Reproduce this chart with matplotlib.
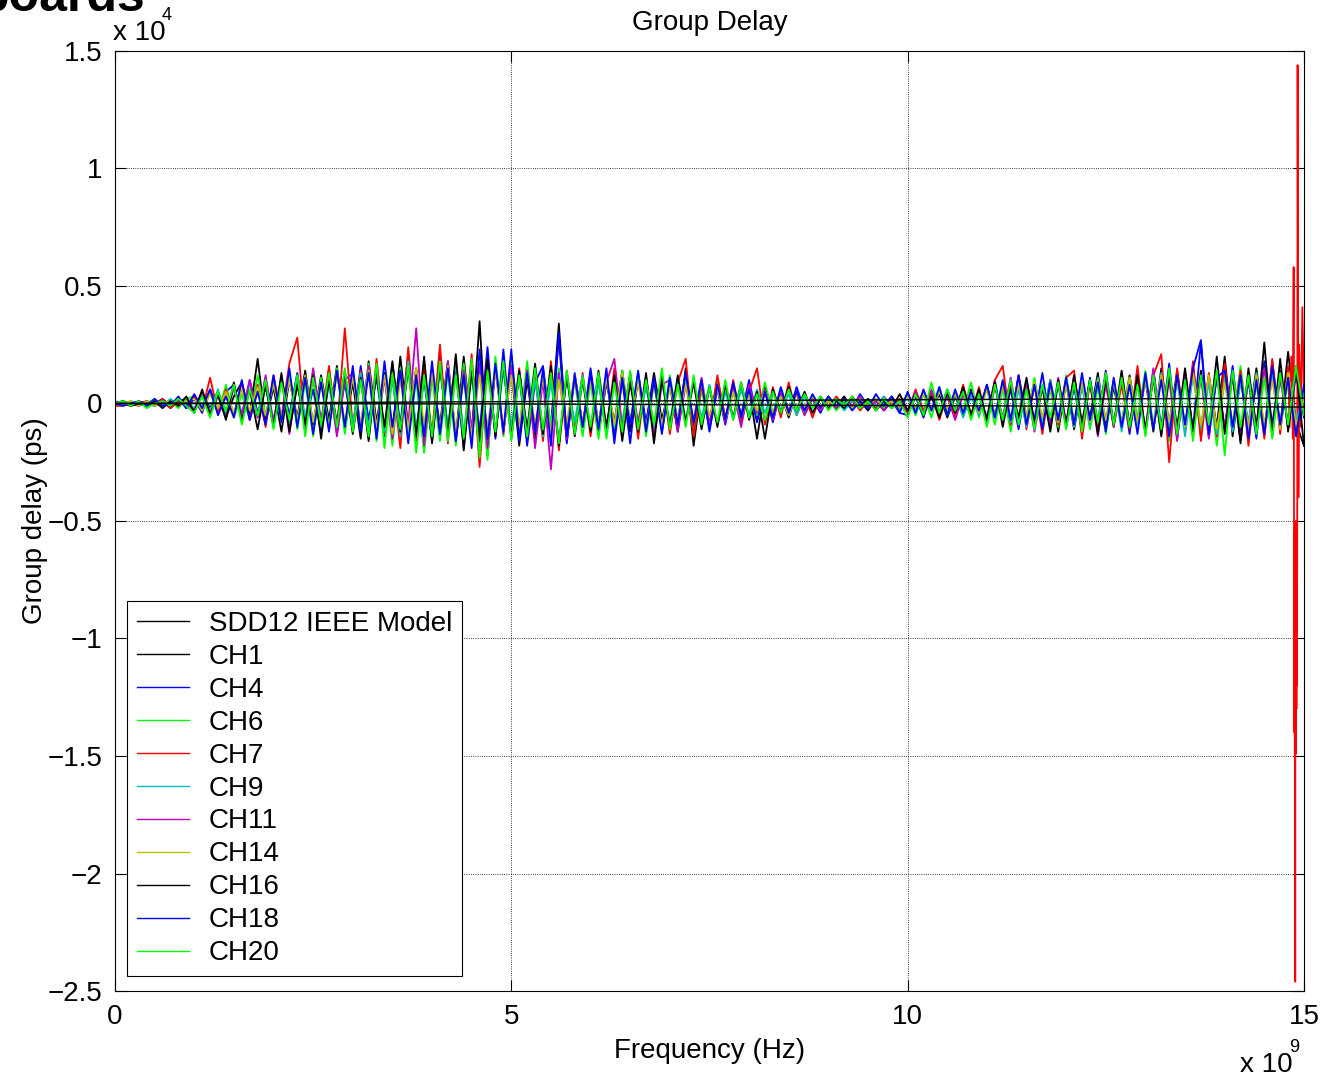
import numpy as np
import matplotlib.pyplot as plt

plt.rcParams["font.family"] = ["Liberation Sans", "DejaVu Sans"]

# frequency grid in GHz (0.1 GHz steps, 0 .. 15)
freq_ghz = np.round(np.arange(151) * 0.1, 2)

# group delay, in units of 100 ps
model_freq = [0, 5, 10, 15]
sdd12_model = [0, 0.8, 1.6, 2.3]
sdd12_model_b = [0, -0.2, -0.9, -1.5]

ch1 = [0, 0, -1, 0, 1, -1, 1, -2, 1, 2,
       -3, 4, -2, 5, -6, 3, 9, -5, 19, -8,
       7, -12, 10, -6, 14, -9, 12, -7, 16, -11,
       9, -15, 18, -8, 13, -12, 20, -10, 15, -17,
       12, -9, 18, -14, 20, -13, 35, -22, 16, -12,
       14, -18, 10, -15, 12, -10, 34, -16, 12, -9,
       11, -13, 9, -8, 14, -12, 10, -9, 13, -7,
       8, -12, 15, -18, 7, -9, 10, -6, 8, -5,
       6, -15, 7, -5, 4, -6, 5, -3, 3, -2,
       2, -1, 3, -2, 1, -3, 2, -1, 3, -2,
       4, -2, 5, -3, 4, -6, 3, -5, 6, -4,
       8, -5, 7, -9, 12, -6, 9, -7, 10, -12,
       9, -11, 8, -6, 13, -10, 7, -9, 12, -8,
       10, -12, 15, -9, 14, -11, 16, -13, 12, -10,
       20, -14, 11, -9, 15, -12, 18, -10, 22, -8,
       -18]

ch4 = [0, 1, 0, -1, 1, 0, 2, -1, 3, -2,
       2, -4, 6, -3, 5, 8, -6, 10, -4, 7,
       -9, 11, -5, 13, -8, 6, -12, 14, -10, 9,
       -12, 16, -7, 11, -14, 17, -9, 21, -13, 10,
       -16, 20, -11, 14, -19, 17, -12, 24, -15, 23,
       -14, 12, -18, 9, 16, -11, 28, -17, 13, -10,
       15, -9, 12, -14, 10, -17, 13, -8, 11, -12,
       9, -7, 13, -10, 8, -11, 6, -9, 7, -5,
       10, -6, 5, -8, 6, -4, 7, -3, 2, -4,
       3, -2, 1, -2, 4, -1, 2, -3, 1, -4,
       -5, 3, -6, 5, -4, 6, -3, 7, -5, 4,
       -6, 10, -8, 6, -11, 9, -7, 13, -9, 8,
       -10, 7, -12, 11, -8, 14, -9, 10, -13, 9,
       -12, 14, -10, 17, -15, 12, -11, 26, -14, 13,
       -11, 16, -13, 10, -15, 18, -9, 14, -10, 12,
       -6]

ch6 = [-1, 0, 1, -1, 0, 2, -1, 1, -2, 2,
       3, -2, 5, -4, 8, -6, 4, -7, 12, -5,
       10, -8, 13, -11, 9, -14, 11, -10, 15, -13,
       14, -11, 17, -16, 12, -18, 15, -13, 10, -21,
       11, -16, 13, -18, 17, -12, 15, -24, 20, -14,
       21, -11, 18, -12, 13, -9, 15, -12, 10, -14,
       9, -15, 11, -10, 14, -8, 12, -14, 9, -11,
       12, -8, 9, -13, 6, -10, 11, -7, 5, -9,
       7, -5, 9, -4, 6, -3, 4, -5, 3, -2,
       2, -3, 1, -2, 3, -1, 2, -2, 1, -3,
       3, -5, 4, -6, 7, -4, 5, -3, 9, -6,
       7, -9, 6, -12, 8, -7, 11, -9, 6, -10,
       12, -8, 9, -11, 7, -13, 10, -8, 11, -6,
       14, -10, 12, -16, 11, -9, 13, -12, 10, -18,
       12, -9, 16, -11, 8, -14, 13, -10, 9, -12,
       4]

# CH7 on the common grid up to 14.8 GHz, then a finer tail near 15 GHz
ch7 = [-1, -1, 0, -1, 1, -1, 2, -2, 1, -1,
       3, -3, 11, -4, 6, -5, 9, -7, 8, -10,
       12, -6, 17, 28, -11, 13, -9, 16, -12, 32,
       -10, 14, -15, 19, -13, 12, -19, 24, -16, 15,
       -13, 25, -17, 19, -15, 21, -27, 18, -13, 16,
       -12, 15, -14, 11, -16, 18, -20, 14, -11, 13,
       -14, 10, -12, 15, -9, 13, -15, 11, -10, 12,
       -13, 9, 19, -14, 8, -10, 12, -7, 10, -8,
       5, 15, -9, 7, -6, 9, -5, 4, -6, 3,
       -2, 3, -1, 2, -3, 1, -2, 3, -1, 2,
       -4, 6, -3, 5, -7, 4, -6, 8, -5, 7,
       -8, 10, 16, -9, 12, -11, 8, -13, 10, -9,
       11, 14, -15, 9, -12, 13, -10, 8, -11, 16,
       -13, 12, 21, -25, 15, -12, 18, -16, 13, -14,
       17, -11, 14, -18, 12, -15, 19, -13, 16]
ch7_tail_freq = [14.82, 14.84, 14.86, 14.87, 14.875, 14.88, 14.8825, 14.885,
                 14.8875, 14.89, 14.8925, 14.895, 14.8975, 14.9, 14.9025,
                 14.905, 14.9075, 14.91, 14.915, 14.92, 14.93, 14.94,
                 14.96, 14.98, 15.0]
ch7_tail = [-10, 20, -15, 58, -60, -140, -55, -150, -70, -246, -60, -145,
            -50, -149, -65, -130, -55, -120, -60, 144, -40, 25,
            -10, 41, 5]

ch9 = [0, -1, 1, 0, -1, 1, -1, 2, -1, 1,
       -2, 4, -3, 6, -5, 7, -4, 9, -6, 8,
       -7, 10, -9, 12, -6, 14, -10, 8, -13, 11,
       -9, 13, -11, 15, -12, 10, -14, 18, -10, 12,
       -15, 14, -10, 17, -13, 12, -18, 16, -12, 14,
       -10, 13, -12, 10, -14, 9, -16, 11, -8, 12,
       -11, 9, -13, 10, -8, 12, -10, 7, -11, 9,
       -8, 10, -7, 9, -6, 8, -9, 5, -7, 6,
       -5, 6, -4, 5, -3, 4, -5, 3, -2, 3,
       -1, 2, -3, 1, -2, 2, -1, 3, -2, 1,
       3, -4, 5, -3, 6, -5, 4, -6, 3, -5,
       7, -6, 9, -8, 6, -10, 8, -7, 10, -6,
       9, -10, 7, -9, 11, -7, 10, -12, 8, -9,
       11, -9, 13, -11, 10, -14, 12, -10, 9, -13,
       10, -12, 9, -8, 13, -10, 11, -9, 12, -7,
       3]

ch11 = [1, 0, -1, 1, 0, -1, 1, -1, 2, 0,
        -3, 5, -4, 3, -6, 7, -5, 10, -6, 12,
        -8, 11, -13, 9, -10, 15, -7, 12, -14, 10,
        13, -10, 16, -12, 11, -15, 14, -9, 32, -18,
        15, -12, 18, -16, 14, -11, 17, -19, 15, -13,
        16, -12, 14, -19, 10, -28, 13, -15, 11, -9,
        12, -10, 9, 19, -11, 13, -8, 10, -14, 8,
        10, -12, 8, -7, 11, -9, 7, -8, 6, -10,
        8, -4, 6, -7, 5, -3, 4, -5, 2, -3,
        1, -2, 2, -1, 3, -2, 1, -3, 2, -1,
        -3, 5, -4, 6, -5, 3, -7, 4, -6, 5,
        -9, 7, -6, 11, -8, 9, -12, 7, -10, 11,
        -8, 12, -11, 9, -14, 8, -10, 13, -9, 10,
        -11, 15, -13, 10, -16, 14, -12, 11, -15, 12,
        -10, 13, -16, 11, -9, 15, -12, 10, -8, 14,
        -2]

ch14 = [0, 0, 1, -1, 1, -1, 0, 1, -1, 1,
        2, -3, 4, -2, 5, -4, 6, -3, 7, -5,
        8, -6, 10, -7, 12, -8, 9, -11, 13, -8,
        11, -9, 14, -10, 12, -13, 10, -11, 15, -9,
        13, -11, 16, -12, 10, -14, 12, -10, 14, -11,
        12, -10, 13, -9, 11, -12, 10, -8, 12, -9,
        10, -8, 11, -9, 13, -7, 9, -10, 8, -9,
        7, -6, 8, -7, 9, -5, 6, -7, 5, -6,
        4, -3, 5, -4, 3, -5, 4, -2, 3, -2,
        1, -1, 2, -2, 1, -1, 2, -1, 1, -2,
        3, -2, 4, -3, 5, -2, 4, -3, 5, -4,
        6, -5, 7, -6, 8, -5, 9, -6, 7, -8,
        8, -7, 9, -8, 10, -7, 9, -9, 11, -8,
        10, -9, 12, -8, 11, -10, 13, -9, 12, -11,
        9, -8, 11, -10, 12, -9, 10, -11, 13, -9,
        2]

ch16 = [0, 1, -1, 0, -1, 1, -2, 1, -1, 3,
        -4, 6, -5, 4, -7, 9, -8, 6, -11, 8,
        -10, 13, -12, 8, -9, 12, -15, 10, -8, 14,
        -13, 11, -16, 14, -10, 18, -12, 15, -14, 20,
        -17, 16, -13, 21, -20, 14, -16, 19, -14, 17,
        -15, 14, -11, 17, -13, 16, -18, 12, -14, 10,
        -12, 14, -10, 12, -16, 9, -12, 13, -17, 11,
        -10, 12, -8, 9, -11, 7, -10, 8, -6, 9,
        -7, 5, -15, 6, -4, 7, -3, 5, -4, 2,
        -2, 1, -2, 3, -1, 2, -3, 1, -2, 4,
        -3, 4, -5, 3, -6, 5, -4, 7, -5, 6,
        -7, 9, -10, 8, -6, 11, -9, 7, -12, 10,
        -9, 12, -8, 10, -13, 11, -9, 14, -10, 12,
        -12, 11, -14, 13, -10, 15, -12, 14, -11, 20,
        -13, 12, -17, 15, -11, 26, -14, 19, -12, 16,
        -18]

ch18 = [0, -1, 0, 1, -1, 2, -1, 0, 2, -2,
        4, -2, 6, -5, 3, -6, 10, -7, 5, -9,
        12, -8, 15, -10, 11, -13, 9, -12, 14, -10,
        16, -12, 13, -15, 18, -10, 14, -17, 12, -14,
        18, -13, 15, -16, 12, -19, 23, -15, 17, -12,
        23, -16, 13, -12, 15, -18, 30, -14, 12, -10,
        13, -11, 15, -17, 11, -9, 14, -12, 10, -13,
        11, -9, 13, -8, 10, -12, 8, -7, 9, -6,
        6, -8, 5, -6, 7, -4, 5, -3, 4, -2,
        3, -1, 2, -3, 1, -2, 4, -1, 3, -4,
        5, -4, 6, -3, 7, -5, 6, -4, 5, -3,
        8, -6, 10, -7, 12, -9, 8, -11, 9, -7,
        11, -9, 13, -7, 9, -12, 11, -10, 8, -13,
        13, -11, 10, -14, 12, -9, 15, 27, -13, 11,
        14, -10, 12, -15, 10, -13, 16, -9, 11, -14,
        8]

ch20 = [0, 1, -1, 1, -2, 0, 1, -1, 2, -1,
        -4, 3, -6, 5, -3, 8, -9, 6, -5, 10,
        -11, 9, -7, 12, -14, 11, -9, 13, -10, 15,
        -12, 10, -14, 17, -19, 13, -11, 16, -21, 12,
        -14, 18, -16, 12, -15, 19, -23, 14, -12, 18,
        -16, 12, -14, 15, -11, 13, -17, 14, -13, 11,
        -10, 13, -15, 9, -12, 14, -11, 10, -9, 15,
        -11, 8, -10, 12, -9, 7, -8, 10, -7, 9,
        -6, 4, -7, 5, -4, 6, -3, 4, -2, 3,
        -3, 2, -1, 3, -2, 1, -3, 2, -2, 1,
        -6, 4, -5, 9, -4, 6, -3, 5, -7, 4,
        -10, 8, -7, 10, -9, 6, -11, 8, -6, 9,
        -11, 9, -12, 10, -8, 13, -9, 11, -10, 8,
        -14, 12, -11, 15, -13, 10, -16, 12, -9, 14,
        -22, 14, -10, 12, -13, 11, -15, 13, -9, 16,
        -5]

channels = [
    ("CH1", ch1, "k"),
    ("CH4", ch4, "b"),
    ("CH6", ch6, "#00ff00"),
    ("CH7", ch7, "r"),
    ("CH9", ch9, "c"),
    ("CH11", ch11, "m"),
    ("CH14", ch14, "y"),
    ("CH16", ch16, "k"),
    ("CH18", ch18, "b"),
    ("CH20", ch20, "#00ff00"),
]

# 100 ps units -> axis units (x 10^4 ps)
scale = 1.0 / 100

fig = plt.figure(figsize=(13.23, 10.78), dpi=100)
ax = fig.add_axes([0.0869, 0.0807, 0.8987, 0.8720])

ax.plot(model_freq, np.array(sdd12_model) * scale, color="k", lw=1.0,
        label="SDD12 IEEE Model", zorder=5)
ax.plot(model_freq, np.array(sdd12_model_b) * scale, color="k", lw=1.0, zorder=5)

for name, vals, col in channels:
    vals = np.array(vals) * scale
    if name == "CH7":
        f = np.concatenate([freq_ghz[:len(vals)], ch7_tail_freq])
        vals = np.concatenate([vals, np.array(ch7_tail) * scale])
    else:
        f = freq_ghz
    ax.plot(f, vals, color=col, lw=1.3, label=name)

ax.set_xlim(0, 15)
ax.set_ylim(-2.5, 1.5)
ax.set_xticks([0, 5, 10, 15])
ax.set_xticklabels(["0", "5", "10", "15"])
yt = [-2.5, -2, -1.5, -1, -0.5, 0, 0.5, 1, 1.5]
ax.set_yticks(yt)
ax.set_yticklabels([("%g" % v).replace("-", "\u2212") for v in yt])
ax.tick_params(direction="in", length=8, width=0.8, labelsize=20,
               top=True, right=True, pad=9)
ax.grid(True, linestyle=":", color="k", linewidth=0.6)
for s in ax.spines.values():
    s.set_linewidth(0.8)

ax.set_title("Group Delay", fontsize=20, pad=15)
ax.set_xlabel("Frequency (Hz)", fontsize=20, labelpad=6)
ax.set_ylabel("Group delay (ps)", fontsize=20, labelpad=0)

# MATLAB-style exponent labels
fig.text(113 / 1323, 1 - 40 / 1078, "x 10", fontsize=20, va="baseline")
fig.text(162 / 1323, 1 - 20 / 1078, "4", fontsize=13, va="baseline")
fig.text(1240 / 1323, 1 - 1072 / 1078, "x 10", fontsize=20, va="baseline")
fig.text(1289 / 1323, 1 - 1052 / 1078, "9", fontsize=13, va="baseline")

# cut-off figure heading
fig.text(145 / 1323, 1 - 11 / 1078, "boards", fontsize=36, fontweight="bold",
         ha="right", va="baseline")

leg = ax.legend(loc="lower left", bbox_to_anchor=(0.0101, 0.016), fontsize=20,
                frameon=True, fancybox=False, framealpha=1, edgecolor="k",
                borderpad=0.35, labelspacing=0.25, handlelength=1.9,
                handletextpad=0.7, borderaxespad=0)
leg.get_frame().set_linewidth(0.8)
for h in leg.get_lines():
    h.set_linewidth(1.0)

fig.savefig("out.png", dpi=100)
